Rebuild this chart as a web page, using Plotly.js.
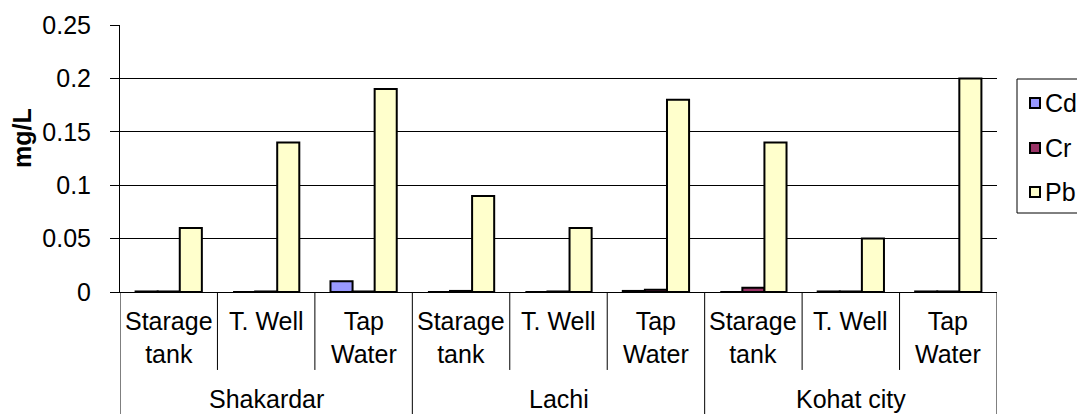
<!DOCTYPE html>
<html>
<head>
<meta charset="utf-8">
<script src="https://cdn.plot.ly/plotly-3.0.1.min.js"></script>
<style>html,body{margin:0;padding:0;background:#fff;}#chart{width:1077px;height:414px;}</style>
</head>
<body>
<div id="chart"></div>
<script>
const groups = ["Shakardar", "Lachi", "Kohat city"];
const sites = ["Starage<br>tank", "T. Well", "Tap<br>Water"];
const seriesNames = ["Cd", "Cr", "Pb"];
const seriesColors = ["#9999FF", "#993366", "#FFFFCC"];
const cd = [0.0005, 0, 0.01, 0, 0, 0.001, 0, 0.0005, 0.0005];
const cr = [0.0005, 0.0005, 0.0005, 0.001, 0.0005, 0.002, 0.004, 0.0005, 0.0005];
const pb = [0.06, 0.14, 0.19, 0.09, 0.06, 0.18, 0.14, 0.05, 0.2];
const yTicks = [0, 0.05, 0.1, 0.15, 0.2, 0.25];
const yTickText = ["0", "0.05", "0.1", "0.15", "0.2", "0.25"];

const FONT = "Liberation Sans, Arial, sans-serif";
const FS = 25;
const W = 1077, H = 414, ML = 120, MR = 80, MT = 25, MB = 122;
const PW = W - ML - MR, PH = H - MT - MB;
const px2x = p => (p - ML) / PW;
const px2y = p => (H - MB - p) / PH;

const idx = [];
const subLabels = [];
for (let g = 0; g < groups.length; g++) {
  for (let s = 0; s < sites.length; s++) {
    idx.push(g * sites.length + s);
    subLabels.push(sites[s]);
  }
}

const seriesVals = [cd, cr, pb];
const data = seriesNames.map((nm, k) => ({
  type: "bar", name: nm, x: idx, y: seriesVals[k], showlegend: false,
  marker: {color: seriesColors[k], line: {color: "#000", width: 2}},
  hoverinfo: "x+y+name"
}));

const annotations = [];
const shapes = [];
const n = idx.length;
// sub-category labels
for (let i = 0; i < n; i++) {
  annotations.push({
    x: idx[i], xref: "x", y: -0.05, yref: "paper", yanchor: "top", xanchor: "center",
    text: subLabels[i], showarrow: false, font: {family: FONT, size: FS, color: "#000"}
  });
}
// group labels
for (let g = 0; g < groups.length; g++) {
  annotations.push({
    x: g * sites.length + (sites.length - 1) / 2, xref: "x", y: px2y(399), yref: "paper",
    yanchor: "middle", xanchor: "center", borderpad: 0,
    text: groups[g], showarrow: false, font: {family: FONT, size: FS, color: "#000"}
  });
}
// y title
annotations.push({
  x: -0.1117, xref: "paper", y: 0.577, yref: "paper", xanchor: "center", yanchor: "middle",
  text: "<b>mg/L</b>", textangle: -90, showarrow: false, font: {family: FONT, size: FS, color: "#000"}
});
// dividers
for (let i = 0; i <= n; i++) {
  const isGroup = (i % sites.length === 0);
  shapes.push({
    type: "line", xref: "x", yref: "paper", x0: i - 0.5, x1: i - 0.5,
    y0: 0, y1: isGroup ? -0.46 : -0.292,
    line: {color: "#000", width: 1}
  });
}
// legend (box, swatches, labels)
shapes.push({
  type: "rect", xref: "paper", yref: "paper",
  x0: px2x(1017), x1: px2x(1100), y0: px2y(213), y1: px2y(79),
  line: {color: "#000", width: 1}, fillcolor: "#fff", layer: "above"
});
const legY = [103, 148, 192];
seriesNames.forEach((nm, k) => {
  shapes.push({
    type: "rect", xref: "paper", yref: "paper",
    x0: px2x(1030), x1: px2x(1040), y0: px2y(legY[k] + 5), y1: px2y(legY[k] - 5),
    line: {color: "#000", width: 2}, fillcolor: seriesColors[k], layer: "above"
  });
  annotations.push({
    x: px2x(1044), xref: "paper", y: px2y(legY[k]), yref: "paper",
    xanchor: "left", yanchor: "middle", text: nm, showarrow: false, borderpad: 0,
    font: {family: FONT, size: FS, color: "#000"}
  });
});

const layout = {
  width: W, height: H,
  margin: {l: ML, r: MR, t: MT, b: MB, autoexpand: false},
  paper_bgcolor: "#fff", plot_bgcolor: "#fff",
  font: {family: FONT, size: FS, color: "#000"},
  barmode: "group", bargap: 0.32, bargroupgap: 0,
  showlegend: false,
  xaxis: {
    range: [-0.5, n - 0.5], showticklabels: false, ticks: "",
    showgrid: false, zeroline: false, showline: true, linecolor: "#000", linewidth: 1,
    fixedrange: true
  },
  yaxis: {
    range: [0, 0.25], tickvals: yTicks, ticktext: yTickText,
    ticks: "outside", ticklen: 9, tickcolor: "#000", tickwidth: 1,
    ticklabelstandoff: 14,
    showgrid: true, gridcolor: "#000", gridwidth: 1,
    zeroline: false, showline: true, linecolor: "#000", linewidth: 1,
    tickfont: {family: FONT, size: FS, color: "#000"},
    fixedrange: true
  },
  annotations: annotations,
  shapes: shapes
};

Plotly.newPlot("chart", data, layout, {displayModeBar: false, staticPlot: true});
</script>
</body>
</html>
